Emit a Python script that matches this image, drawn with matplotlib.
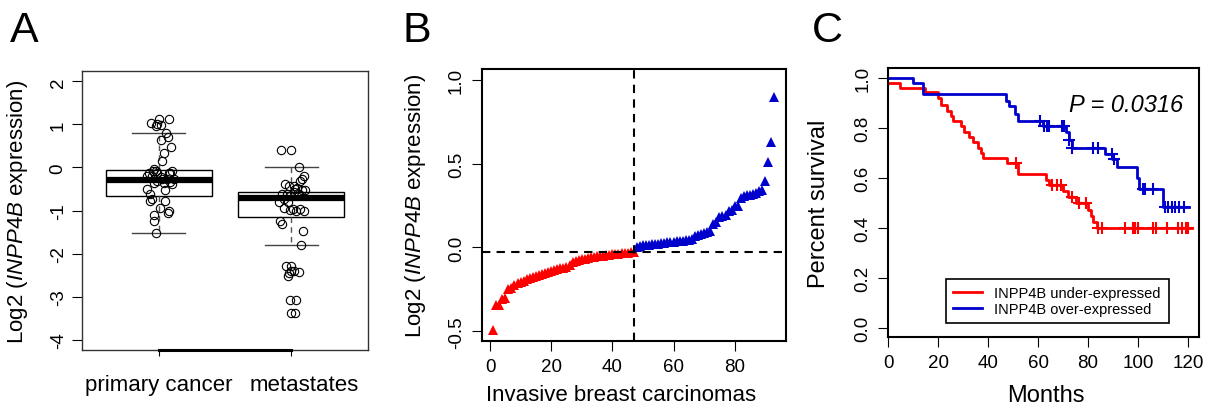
import matplotlib
matplotlib.use("Agg")
import matplotlib.pyplot as plt
import numpy as np

plt.rcParams['font.family'] = ['Liberation Sans', 'DejaVu Sans']
plt.rcParams['mathtext.fontset'] = 'custom'
plt.rcParams['mathtext.rm'] = 'Liberation Sans'
plt.rcParams['mathtext.it'] = 'Liberation Sans:italic'

# ---- panel A data ----
groups = ["primary cancer", "metastates"]
prim_x = [0.942, 0.975, 1.005, 1.013, 1.078, 0.987, 1.055, 1.07, 1.013, 1.093, 1.038, 1.025,
          0.967, 0.975, 0.957, 0.925, 1.088, 1.1, 0.95, 1.013, 1.063, 1.113, 0.962, 1.038,
          1.1, 0.987, 0.907, 1.05, 0.937, 0.95, 0.937, 1.05, 1.008, 1.075, 1.068, 0.962,
          0.967, 0.982, 1.075, 1.025, 0.987, 1.088, 0.912]
prim_y = [1.03, 0.97, 1.12, 0.98, 1.12, 1.01, 0.79, 0.71, 0.64, 0.47, 0.33, 0.14,
          -0.04, -0.08, -0.09, -0.12, -0.12, -0.08, -0.19, -0.23, -0.27, -0.27, -0.35, -0.35,
          -0.39, -0.31, -0.50, -0.52, -0.62, -0.74, -0.78, -0.78, -0.93, -1.02, -1.05, -1.11,
          -1.24, -1.53, -0.12, -0.26, -0.12, -0.33, -0.19]
meta_x = [1.925, 2.0, 2.06, 2.098, 2.063, 1.955, 1.98, 2.018, 2.043, 2.08, 2.105, 1.905,
          1.93, 1.967, 1.992, 2.018, 2.055, 1.942, 1.972, 1.947, 1.992, 2.013, 2.038, 2.068,
          2.098, 1.917, 1.93, 2.088, 2.075, 1.962, 1.997, 1.972, 1.997, 2.018, 2.055, 1.985,
          1.992, 2.038, 1.997, 2.03, 2.08, 2.03]
meta_y = [0.41, 0.41, 0.02, -0.19, -0.31, -0.39, -0.43, -0.43, -0.47, -0.52, -0.52, -0.80,
          -0.62, -0.62, -0.66, -0.58, -0.62, -0.74, -0.81, -0.93, -0.98, -0.97, -1.01, -0.97,
          -1.02, -1.24, -1.32, -1.47, -1.81, -2.29, -2.29, -2.52, -2.40, -2.40, -2.43, -2.44,
          -3.09, -3.09, -3.39, -3.39, -0.27, -0.50]
box_med = [-0.295, -0.713]
box_q1 = [-0.674, -1.147]
box_q3 = [-0.062, -0.566]
box_whislo = [-1.527, -1.806]
box_whishi = [0.79, 0.016]
a_yticks = [2, 1, 0, -1, -2, -3, -4]
# where the group names sit (the second one is pushed a bit to the right)
group_label_x = [1.0, 2.098]

# ---- panel B data ----
under_vals = [-0.49, -0.345, -0.345, -0.31, -0.30, -0.25, -0.24, -0.225, -0.215, -0.208,
              -0.20, -0.19, -0.18, -0.175, -0.17, -0.165, -0.16, -0.155, -0.148, -0.14,
              -0.135, -0.13, -0.125, -0.12, -0.115, -0.105, -0.085, -0.078, -0.075, -0.07,
              -0.067, -0.064, -0.06, -0.057, -0.054, -0.051, -0.049, -0.046, -0.044, -0.041,
              -0.039, -0.037, -0.035, -0.033, -0.031, -0.029, -0.027]
over_vals = [0.005, 0.01, 0.013, 0.015, 0.017, 0.019, 0.021, 0.023, 0.026, 0.028, 0.03,
             0.032, 0.034, 0.036, 0.038, 0.04, 0.042, 0.044, 0.048, 0.07, 0.075, 0.08, 0.085,
             0.09, 0.1, 0.14, 0.15, 0.18, 0.19, 0.195, 0.22, 0.225, 0.245, 0.25, 0.295, 0.305,
             0.31, 0.315, 0.32, 0.325, 0.335, 0.345, 0.395, 0.51, 0.63, 0.895]
b_median = -0.026
b_yticks = [1.0, 0.5, 0.0, -0.5]
b_xticks = [0, 20, 40, 60, 80]

# ---- panel C data ----
red_t = [0, 4.7, 14.5, 20, 21, 23.5, 25, 26, 29, 30.5, 32.5, 34, 36, 37, 38, 47.5, 52,
         63, 64.5, 70, 72, 75, 80, 81, 82, 83.5, 121.5]
red_s = [0.98, 0.96, 0.944, 0.92, 0.895, 0.87, 0.85, 0.83, 0.81, 0.785, 0.765, 0.745, 0.72,
         0.70, 0.68, 0.66, 0.617, 0.593, 0.575, 0.55, 0.525, 0.50, 0.475, 0.45, 0.425, 0.40, 0.40]
red_cens_t = [51, 65.5, 67.5, 69, 73.5, 76.5, 79, 84, 85.5, 95, 98.2, 99, 100, 106, 107.3,
              111.6, 116, 117.6, 119.3, 120.2]
red_cens_s = [0.66, 0.575, 0.575, 0.575, 0.525, 0.50, 0.50, 0.40, 0.40, 0.40, 0.40, 0.40,
              0.40, 0.40, 0.40, 0.40, 0.40, 0.40, 0.40, 0.40]
blue_t = [0, 9.8, 14, 47, 48.5, 50.8, 52, 62, 71, 72.5, 73.5, 87, 89.5, 91.5, 99.5, 100.5,
          110, 120.5]
blue_s = [1.0, 0.98, 0.937, 0.91, 0.89, 0.857, 0.83, 0.81, 0.785, 0.755, 0.72, 0.697, 0.677,
          0.647, 0.60, 0.557, 0.485, 0.485]
blue_cens_t = [60.8, 62.5, 63.5, 64.5, 69.5, 70.5, 72.5, 73.5, 82, 84, 89.5, 90.5, 102, 103,
               106, 111, 112, 113.5, 115, 116.5, 118.5]
blue_cens_s = [0.83, 0.81, 0.81, 0.81, 0.81, 0.81, 0.755, 0.72, 0.72, 0.72, 0.697, 0.677,
               0.557, 0.557, 0.557, 0.485, 0.485, 0.485, 0.485, 0.485, 0.485]
c_xticks = [0, 20, 40, 60, 80, 100, 120]
c_yticks = [0.0, 0.2, 0.4, 0.6, 0.8, 1.0]
legend_labels = ["INPP4B under-expressed", "INPP4B over-expressed"]

RED = "#ff0000"
BLUE = "#0000cd"
ylab = "Log2 ($\\mathit{INPP4B}$ expression)"
TICKFS = 13.5
LABFS = 16

fig = plt.figure(figsize=(12.08, 4.06), dpi=100)

# ---------------- A ----------------
axA = fig.add_axes([0.0679, 0.1355, 0.2368, 0.687])
stats = []
for i in range(2):
    stats.append({"med": box_med[i], "q1": box_q1[i], "q3": box_q3[i],
                  "whislo": box_whislo[i], "whishi": box_whishi[i], "fliers": []})
axA.bxp(stats, positions=[1, 2], widths=0.8, capwidths=0.4, patch_artist=True,
        boxprops=dict(facecolor="white", edgecolor="black", linewidth=1),
        medianprops=dict(color="black", linewidth=4.5, solid_capstyle="butt"),
        whiskerprops=dict(color="#555555", linewidth=1, linestyle=(0, (4, 3))),
        capprops=dict(color="#444444", linewidth=1), zorder=1)
axA.plot(prim_x, prim_y, "o", mfc="none", mec="black", ms=6, mew=0.8, zorder=3)
axA.plot(meta_x, meta_y, "o", mfc="none", mec="black", ms=6, mew=0.8, zorder=3)
axA.set_xlim(0.42, 2.58)
axA.set_ylim(-4.24, 2.24)
axA.xaxis.remove_overlapping_locs = False
axA.set_xticks([1, 2])
axA.set_xticklabels(["", ""])
axA.set_xticks(group_label_x, minor=True)
axA.set_xticklabels(groups, minor=True, fontsize=LABFS)
axA.tick_params(axis="x", which="major", length=4)
axA.tick_params(axis="x", which="minor", length=0, pad=17)
axA.set_yticks(a_yticks)
axA.set_yticklabels([str(v) for v in a_yticks], fontsize=TICKFS, rotation=90, va="center")
axA.tick_params(axis="y", length=7, pad=4)
for s in axA.spines.values():
    s.set_color("#333333")
    s.set_linewidth(1)
axA.plot([1, 2], [-4.24, -4.24], color="black", lw=2.2, clip_on=False, zorder=5)
axA.set_ylabel(ylab, fontsize=LABFS)
axA.yaxis.set_label_coords(-0.182, 0.5)

# ---------------- B ----------------
axB = fig.add_axes([0.3988, 0.1576, 0.2517, 0.670])
n_under = len(under_vals)
idx_under = np.arange(1, n_under + 1)
idx_over = np.arange(n_under + 1, n_under + len(over_vals) + 1)
axB.plot(idx_under, under_vals, "^", color=RED, ms=6.5, mew=0)
axB.plot(idx_over, over_vals, "^", color=BLUE, ms=6.5, mew=0)
axB.axvline(n_under, color="black", lw=1.5, ls=(0, (4, 3)))
axB.axhline(b_median, color="black", lw=1.5, ls=(0, (4, 3)))
axB.set_xlim(-2.7, 96.7)
axB.set_ylim(-0.558, 1.064)
axB.set_xticks(b_xticks)
axB.set_xticklabels([str(v) for v in b_xticks], fontsize=TICKFS)
axB.set_yticks(b_yticks)
axB.set_yticklabels([("%.1f" % v) for v in b_yticks], fontsize=TICKFS, rotation=90, va="center")
axB.tick_params(length=7, pad=5)
for s in axB.spines.values():
    s.set_linewidth(1.5)
axB.set_ylabel(ylab, fontsize=LABFS)
axB.yaxis.set_label_coords(-0.177, 0.5)
axB.set_xlabel("Invasive breast carcinomas", fontsize=LABFS)
axB.xaxis.set_label_coords(0.459, -0.158)

# ---------------- C ----------------
axC = fig.add_axes([0.7354, 0.1667, 0.2572, 0.6626])
axC.step(red_t, red_s, where="post", color=RED, lw=2, label=legend_labels[0])
axC.step(blue_t, blue_s, where="post", color=BLUE, lw=2, label=legend_labels[1])
axC.plot(red_cens_t, red_cens_s, "+", color=RED, ms=9, mew=1.5)
axC.plot(blue_cens_t, blue_cens_s, "+", color=BLUE, ms=9, mew=1.5)
axC.text(95.2, 0.897, "P = 0.0316", fontsize=17, style="italic", ha="center", va="center")
axC.set_xlim(0, 124.5)
axC.set_ylim(-0.036, 1.04)
axC.set_xticks(c_xticks)
axC.set_xticklabels([str(v) for v in c_xticks], fontsize=TICKFS)
axC.set_yticks(c_yticks)
axC.set_yticklabels([("%.1f" % v) for v in c_yticks], fontsize=TICKFS, rotation=90, va="center")
axC.tick_params(length=7, pad=5)
for s in axC.spines.values():
    s.set_linewidth(1.5)
axC.set_ylabel("Percent survival", fontsize=LABFS + 1)
axC.yaxis.set_label_coords(-0.188, 0.5)
axC.set_xlabel("Months", fontsize=LABFS + 1)
axC.xaxis.set_label_coords(0.507, -0.172)
leg = axC.legend(loc="lower left", bbox_to_anchor=(0.161, 0.0245, 0.767, 0.195), mode="expand",
                 fontsize=10.5, fancybox=False, edgecolor="black", framealpha=1,
                 handlelength=2.0, handletextpad=0.8, labelspacing=0.15, borderpad=0.5)
leg.get_frame().set_linewidth(1.2)

fig.text(10 / 1208, 1 - 42 / 406, "A", fontsize=31)
fig.text(402 / 1208, 1 - 42 / 406, "B", fontsize=31)
fig.text(812 / 1208, 1 - 42 / 406, "C", fontsize=31)

fig.savefig("out.png", dpi=100)
